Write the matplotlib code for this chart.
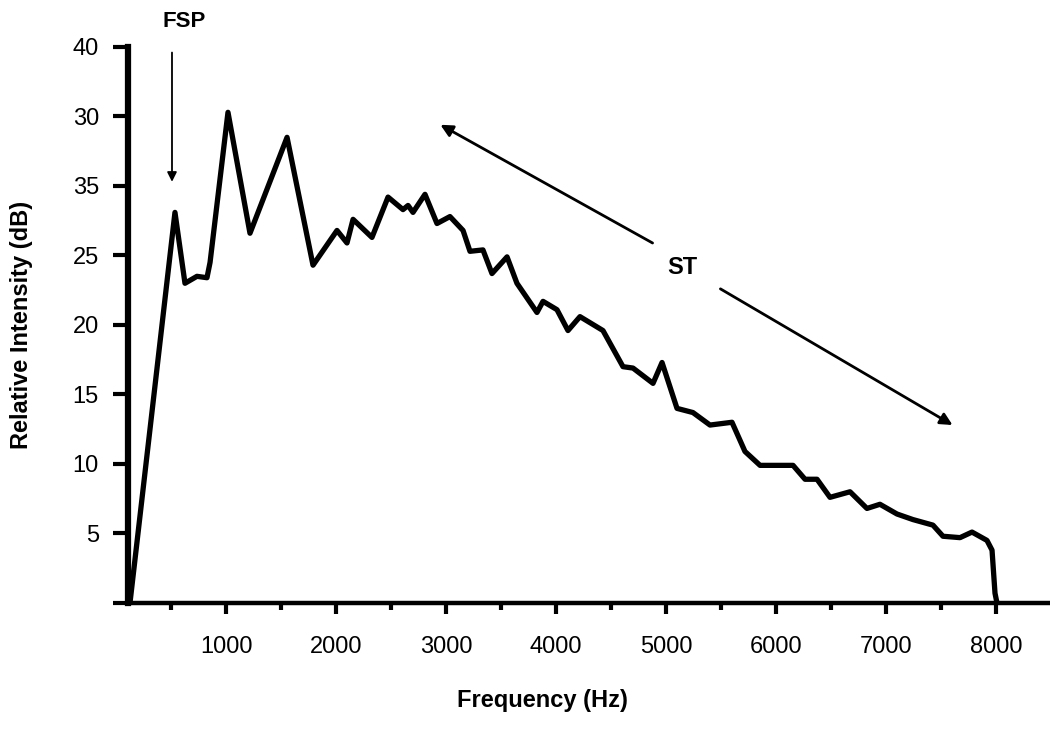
import matplotlib.pyplot as plt
from matplotlib.ticker import FixedLocator

plt.rcParams['font.family'] = ['Liberation Sans', 'DejaVu Sans']

# spectrum (Hz, relative intensity on the linear axis scale)
freq_hz = [127, 536, 627, 736, 827, 855, 1018, 1218, 1555, 1791,
           2009, 2100, 2155, 2327, 2473, 2609, 2655, 2700, 2809, 2918,
           3036, 3155, 3218, 3336, 3418, 3555, 3645, 3827, 3882, 4009,
           4109, 4218, 4427, 4609, 4700, 4882, 4964, 5100, 5245, 5400,
           5600, 5718, 5855, 6155, 6264, 6373, 6491, 6673, 6827, 6945,
           7100, 7245, 7427, 7518, 7673, 7782, 7918, 7964, 7991, 8009]
intensity_db = [0.0, 28.1, 23.0, 23.5, 23.4, 24.5, 35.3, 26.6, 33.5, 24.3,
                26.8, 25.9, 27.6, 26.3, 29.2, 28.3, 28.6, 28.1, 29.4, 27.3,
                27.8, 26.8, 25.3, 25.4, 23.7, 24.9, 23.0, 20.9, 21.7, 21.1,
                19.6, 20.6, 19.6, 17.0, 16.9, 15.8, 17.3, 14.0, 13.7, 12.8,
                13.0, 10.9, 9.9, 9.9, 8.9, 8.9, 7.6, 8.0, 6.8, 7.1,
                6.4, 6.0, 5.6, 4.8, 4.7, 5.1, 4.5, 3.8, 0.7, 0.0]

x_major = [1000, 2000, 3000, 4000, 5000, 6000, 7000, 8000]
x_minor = [500, 1500, 2500, 3500, 4500, 5500, 6500, 7500]
y_ticks = [0, 5, 10, 15, 20, 25, 30, 35, 40]
# labels as printed in the original figure (30 and 35 are swapped there)
y_labels = ['', '5', '10', '15', '20', '25', '35', '30', '40']

fig = plt.figure(figsize=(10.5, 7.33), dpi=100)
ax = fig.add_axes([0.1219, 0.1774, 0.8781, 0.7585])

ax.plot(freq_hz, intensity_db, color='black', lw=3.8, solid_joinstyle='round')

ax.set_xlim(109, 8491)
ax.set_ylim(0, 40)

for side in ['top', 'right']:
    ax.spines[side].set_visible(False)
ax.spines['left'].set_linewidth(4.5)
ax.spines['bottom'].set_linewidth(3.2)

ax.xaxis.set_major_locator(FixedLocator(x_major))
ax.xaxis.set_minor_locator(FixedLocator(x_minor))
ax.set_xticks(x_major)
ax.set_xticklabels([str(v) for v in x_major])
ax.set_yticks(y_ticks)
ax.set_yticklabels(y_labels)

ax.tick_params(axis='x', which='major', direction='out', length=8, width=3,
               labelsize=17, pad=16)
ax.tick_params(axis='x', which='minor', direction='out', length=5, width=3)
ax.tick_params(axis='y', direction='out', length=11, width=3,
               labelsize=17, pad=10)

ax.set_xlabel('Frequency (Hz)', fontsize=17, fontweight='bold')
ax.set_ylabel('Relative Intensity (dB)', fontsize=17, fontweight='bold')
ax.xaxis.set_label_coords(0.45, -0.155)
ax.yaxis.set_label_coords(-0.103, 0.5)

# annotations
ax.annotate('', xy=(509, 30.1), xytext=(509, 39.8),
            arrowprops=dict(arrowstyle='-|>', color='black', lw=1.3,
                            mutation_scale=14),
            annotation_clip=False)
ax.text(620, 41.8, 'FSP', ha='center', va='center', fontsize=16,
        fontweight='bold', clip_on=False)

ax.text(5145, 24.1, 'ST', ha='center', va='center', fontsize=17,
        fontweight='bold')
ax.annotate('', xy=(2927, 34.5), xytext=(4900, 25.8),
            arrowprops=dict(arrowstyle='-|>', color='black', lw=2,
                            mutation_scale=18))
ax.annotate('', xy=(7627, 12.7), xytext=(5473, 22.7),
            arrowprops=dict(arrowstyle='-|>', color='black', lw=2,
                            mutation_scale=18))

fig.savefig('out.png', dpi=100)
